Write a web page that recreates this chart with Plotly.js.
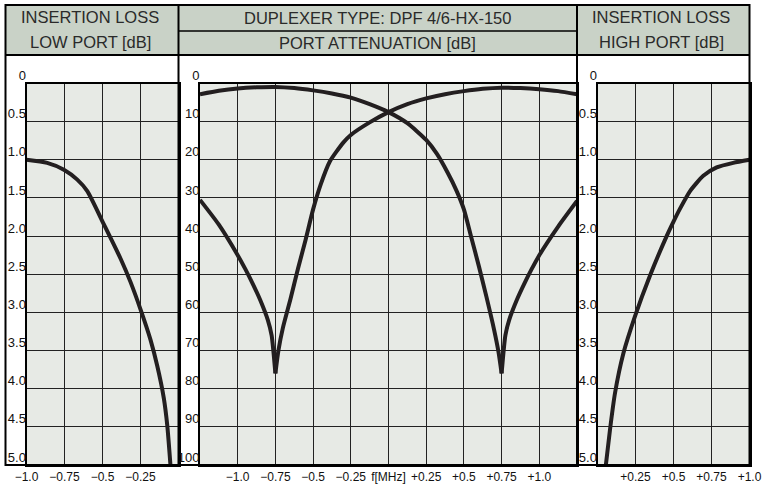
<!DOCTYPE html>
<html>
<head>
<meta charset="utf-8">
<script src="https://cdn.plot.ly/plotly-3.0.1.min.js"></script>
<style>html,body{margin:0;padding:0;background:#fff;}#chart{width:763px;height:486px;}</style>
</head>
<body>
<div id="chart"></div>
<script>
// ---- data ----
// Insertion loss, low port (left panel)
const lowFreq = [-1.0, -0.864, -0.754, -0.666, -0.6, -0.49, -0.38, -0.316, -0.25, -0.184, -0.14, -0.097, -0.074, -0.053];
const lowIL   = [1.0, 1.04, 1.13, 1.26, 1.41, 1.85, 2.3, 2.6, 2.96, 3.36, 3.7, 4.12, 4.48, 5.0];
// Insertion loss, high port (right panel)
const highFreq = [0.055, 0.082, 0.115, 0.17, 0.247, 0.345, 0.455, 0.5, 0.543, 0.609, 0.696, 0.784, 0.893, 1.0];
const highIL   = [5.0, 4.54, 4.06, 3.54, 3.05, 2.52, 2.0, 1.81, 1.64, 1.41, 1.21, 1.1, 1.04, 1.0];
// Port attenuation (middle panel)
const attLowFreq = [-1.25, -1.125, -1.0, -0.875, -0.75, -0.625, -0.5, -0.375, -0.25, -0.125, 0, 0.125, 0.25, 0.32, 0.39, 0.45, 0.5, 0.55, 0.6, 0.65, 0.7, 0.73, 0.75, 0.775, 0.8, 0.85, 0.9, 0.95, 1.0, 1.125, 1.25];
const attLow     = [2.8, 1.9, 1.3, 1.0, 0.9, 1.2, 1.8, 2.6, 3.7, 5.4, 7.5, 10.4, 14.8, 18.4, 23.2, 28, 33, 40.5, 48, 56, 64.5, 70.5, 76, 66, 62, 56.8, 52.5, 48.6, 45, 37.5, 30.8];
const attHighFreq = [-1.25, -1.125, -1.0, -0.95, -0.9, -0.85, -0.8, -0.775, -0.75, -0.73, -0.7, -0.65, -0.6, -0.55, -0.5, -0.45, -0.39, -0.3, -0.25, -0.125, 0, 0.125, 0.25, 0.375, 0.5, 0.625, 0.75, 0.875, 1.0, 1.125, 1.25];
const attHigh     = [30.5, 37, 45, 48.6, 52.5, 56.8, 62, 66, 76, 70, 64, 56.5, 48.5, 41, 33, 26.5, 20.5, 15.5, 13.5, 10.2, 7.5, 5.4, 3.9, 2.8, 2.0, 1.4, 1.1, 1.2, 1.5, 2.0, 2.8];

// tick labels
const ilTickVals = [0, 0.5, 1, 1.5, 2, 2.5, 3, 3.5, 4, 4.5, 5];
const ilTickText = ['0', '0.5', '1.0', '1.5', '2.0', '2.5', '3.0', '3.5', '4.0', '4.5', '5.0'];
const attTickVals = [0, 10, 20, 30, 40, 50, 60, 70, 80, 90, 100];
const attTickText = ['0', '10', '20', '30', '40', '50', '60', '70', '80', '90', '100'];
const lowXVals = [-1.0, -0.75, -0.5, -0.25];
const lowXText = ['\u22121.0', '\u22120.75', '\u22120.5', '\u22120.25'];
const midXVals = [-1.25, -1.0, -0.75, -0.5, -0.25, 0, 0.25, 0.5, 0.75, 1.0, 1.25];
const midXText = ['', '\u22121.0', '\u22120.75', '\u22120.5', '\u22120.25', 'f[MHz]', '+0.25', '+0.5', '+0.75', '+1.0', ''];
const highXVals = [0, 0.25, 0.5, 0.75, 1.0];
const highXText = ['', '+0.25', '+0.5', '+0.75', '+1.0'];

const headerLeft = ['INSERTION LOSS', 'LOW PORT [dB]'];
const headerMid = ['DUPLEXER TYPE: DPF 4/6-HX-150', 'PORT ATTENUATION [dB]'];
const headerRight = ['INSERTION LOSS', 'HIGH PORT [dB]'];

// ---- geometry (pixels) ----
const W = 763, H = 486;
const px = x => x / W, py = y => 1 - y / H;
const XL = 5.5, XR = 749.5, YT = 5, YH = 55, YMID = 31, Y0 = 83.5, YB = 465;
const D1 = 178.5, D2 = 577;
const yDom = [py(YB), py(Y0)];

const curveColor = '#231f20';
const gridColor = '#222222';
const xTickFont = {family: 'Liberation Sans, Arial, sans-serif', size: 12, color: '#111'};
const yTickFont = {family: 'Liberation Sans, Arial, sans-serif', size: 13, color: '#111'};

function xAxis(dom, range, vals, text, anchor) {
  return {domain: dom, range: range, anchor: anchor, tickmode: 'array', tickvals: vals, ticktext: text,
    showgrid: true, gridcolor: gridColor, gridwidth: 1, zeroline: false,
    showline: true, linecolor: '#000', linewidth: 2, mirror: true,
    ticks: '', tickfont: xTickFont, fixedrange: true};
}
function yAxis(range, vals, text, anchor) {
  return {domain: yDom, range: range, anchor: anchor, tickmode: 'array', tickvals: vals, ticktext: text,
    showgrid: true, gridcolor: gridColor, gridwidth: 1, zeroline: false,
    showline: true, linecolor: '#000', linewidth: 2, mirror: true,
    ticks: '', tickfont: yTickFont, ticklabelshift: 8, ticklabelstandoff: -4, fixedrange: true};
}

// split an attenuation curve at its notch so each side is smooth but the notch stays sharp
function notchIndex(arr) { return arr.indexOf(Math.max.apply(null, arr)); }
const nL = notchIndex(attLow), nH = notchIndex(attHigh);

const smooth = {color: curveColor, width: 4, shape: 'spline', smoothing: 0.6};
function tr(x, y, xa, ya) { return {x: x, y: y, xaxis: xa, yaxis: ya, mode: 'lines', line: smooth, hoverinfo: 'skip'}; }
const data = [
  tr(lowFreq, lowIL, 'x', 'y'),
  tr(attLowFreq.slice(0, nL + 1), attLow.slice(0, nL + 1), 'x2', 'y2'),
  tr(attLowFreq.slice(nL), attLow.slice(nL), 'x2', 'y2'),
  tr(attHighFreq.slice(0, nH + 1), attHigh.slice(0, nH + 1), 'x2', 'y2'),
  tr(attHighFreq.slice(nH), attHigh.slice(nH), 'x2', 'y2'),
  tr(highFreq, highIL, 'x3', 'y3')
];

const shapes = [
  {type: 'rect', xref: 'paper', yref: 'paper', x0: px(XL), x1: px(XR), y0: py(YT), y1: py(YH), fillcolor: '#c9d2c7', line: {width: 0}, layer: 'below'},
  {type: 'rect', xref: 'paper', yref: 'paper', x0: px(XL), x1: px(XR), y0: py(YT), y1: py(YB), line: {color: '#000', width: 2}},
  {type: 'line', xref: 'paper', yref: 'paper', x0: px(XL), x1: px(XR), y0: py(YH), y1: py(YH), line: {color: '#000', width: 2}},
  {type: 'line', xref: 'paper', yref: 'paper', x0: px(D1), x1: px(D1), y0: py(YT), y1: py(YB), line: {color: '#000', width: 2}},
  {type: 'line', xref: 'paper', yref: 'paper', x0: px(D2), x1: px(D2), y0: py(YT), y1: py(YB), line: {color: '#000', width: 2}},
  {type: 'line', xref: 'paper', yref: 'paper', x0: px(D1), x1: px(D2), y0: py(YMID), y1: py(YMID), line: {color: '#000', width: 1.5}}
];

const headFont = {family: 'Liberation Sans, Arial, sans-serif', size: 16.5, color: '#2a2a2a'};
function ann(text, x, y) {
  return {text: text, xref: 'paper', yref: 'paper', x: px(x), y: py(y), xanchor: 'center', yanchor: 'middle', showarrow: false, font: headFont};
}
const annotations = [
  ann(headerLeft[0], 90, 17.5), ann(headerLeft[1], 90, 42),
  ann(headerMid[0], 377.5, 18), ann(headerMid[1], 377.5, 43),
  ann(headerRight[0], 661, 17.5), ann(headerRight[1], 661, 42)
];

const layout = {
  width: W, height: H, margin: {l: 0, r: 0, t: 0, b: 0},
  paper_bgcolor: '#ffffff', plot_bgcolor: '#e7eae5', showlegend: false,
  xaxis: xAxis([px(26.5), px(D1)], [-1.0, 0], lowXVals, lowXText, 'y'),
  yaxis: yAxis([5, 0], ilTickVals, ilTickText, 'x'),
  xaxis2: xAxis([px(200), px(D2)], [-1.25, 1.25], midXVals, midXText, 'y2'),
  yaxis2: yAxis([100, 0], attTickVals, attTickText, 'x2'),
  xaxis3: xAxis([px(597.5), px(XR)], [0, 1.0], highXVals, highXText, 'y3'),
  yaxis3: yAxis([5, 0], ilTickVals, ilTickText, 'x3'),
  shapes: shapes, annotations: annotations
};

Plotly.newPlot('chart', data, layout, {staticPlot: true, displayModeBar: false});
</script>
</body>
</html>
